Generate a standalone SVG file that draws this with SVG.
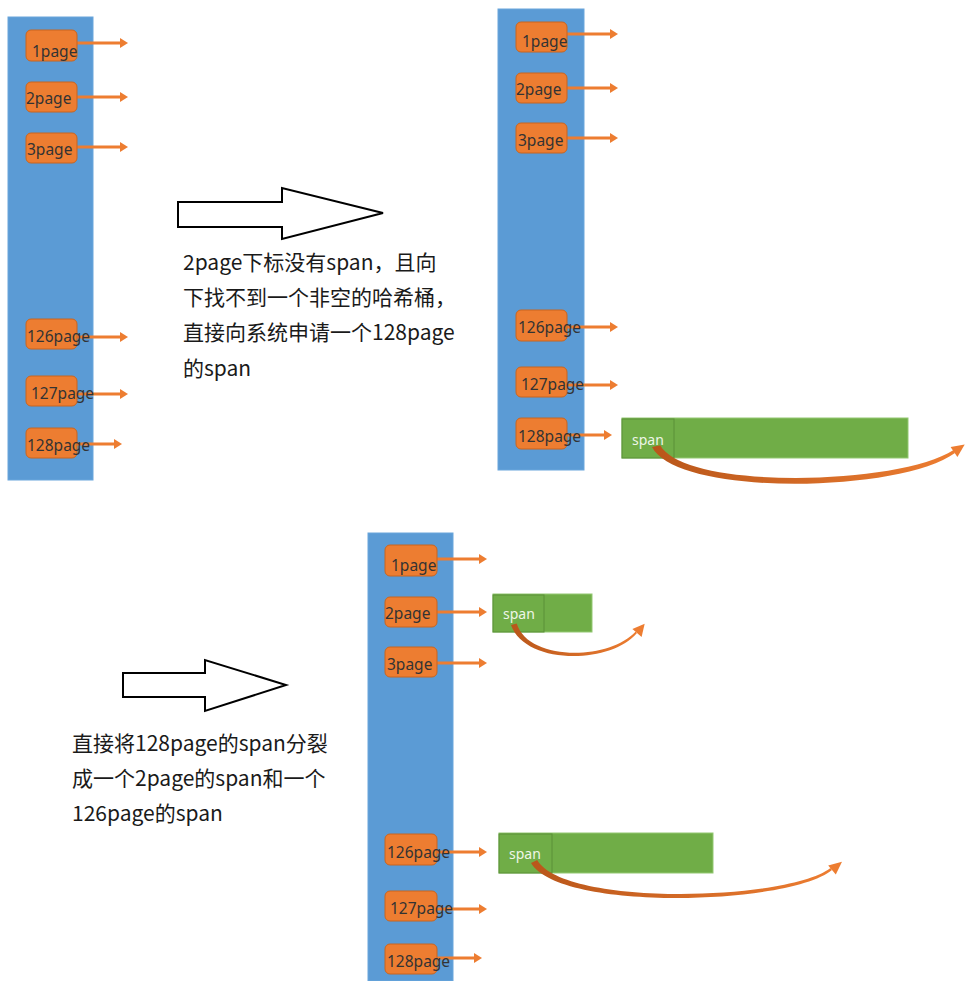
<svg xmlns="http://www.w3.org/2000/svg" width="977" height="981" viewBox="0 0 977 981">
<style>
.col{fill:#5b9bd5;stroke:#6aa6dc;stroke-width:1}
.nb{fill:#ed7d31;stroke:#c9651f;stroke-width:1}
.nt{font-family:"Noto Sans","Liberation Sans",sans-serif;font-size:15.5px;fill:#333}
.ar{stroke:#ed7d31;stroke-width:3;fill:none;marker-end:url(#ah)}
.sp{fill:#70ad47;stroke:#93c873;stroke-width:1}
.spi{fill:#70ad47;stroke:#5a9038;stroke-width:1}
.st{font-family:"Noto Sans","Liberation Sans",sans-serif;font-size:14px;fill:#eef6e8}
.big{fill:#fff;stroke:#000;stroke-width:2;stroke-linejoin:miter}
.tx{font-family:"Noto Sans CJK SC","Noto Sans",sans-serif;font-size:21px;fill:#1a1a1a}
.cv{fill:url(#cg)}
</style>
<defs>
<marker id="ah" markerUnits="userSpaceOnUse" markerWidth="9" markerHeight="10" refX="2" refY="5" orient="auto">
<path d="M0,0 L8,5 L0,10 Z" fill="#ed7d31"/>
</marker>
<linearGradient id="cg" x1="0" y1="0" x2="1" y2="0">
<stop offset="0" stop-color="#b9561a"/>
<stop offset="1" stop-color="#ed7d31"/>
</linearGradient>
</defs>

<rect class="col" x="8" y="17" width="85" height="463"/>
<rect class="col" x="498" y="9" width="86" height="461"/>
<rect class="col" x="368" y="533" width="85" height="448"/>

<g id="connectors">
<line class="ar" x1="77" y1="43" x2="122" y2="43"/>
<line class="ar" x1="77" y1="97" x2="122" y2="97"/>
<line class="ar" x1="77" y1="147" x2="122" y2="147"/>
<line class="ar" x1="77" y1="337" x2="122" y2="337"/>
<line class="ar" x1="77" y1="394" x2="122" y2="394"/>
<line class="ar" x1="77" y1="444" x2="116" y2="444"/>

<line class="ar" x1="567" y1="34" x2="612" y2="34"/>
<line class="ar" x1="567" y1="88" x2="612" y2="88"/>
<line class="ar" x1="567" y1="138" x2="612" y2="138"/>
<line class="ar" x1="567" y1="327" x2="612" y2="327"/>
<line class="ar" x1="567" y1="385" x2="612" y2="385"/>
<line class="ar" x1="567" y1="435" x2="606" y2="435"/>

<line class="ar" x1="437" y1="559" x2="481" y2="559"/>
<line class="ar" x1="437" y1="612" x2="481" y2="612"/>
<line class="ar" x1="437" y1="663" x2="481" y2="663"/>
<line class="ar" x1="437" y1="852" x2="481" y2="852"/>
<line class="ar" x1="437" y1="909" x2="481" y2="909"/>
<line class="ar" x1="437" y1="958" x2="476" y2="958"/>
</g>

<g id="c1-1page"><rect class="nb" x="26" y="30" width="51" height="31" rx="5"/><text class="nt" x="32" y="57">1page</text></g>
<g id="c1-2page"><rect class="nb" x="26" y="82" width="51" height="30" rx="5"/><text class="nt" x="26" y="104">2page</text></g>
<g id="c1-3page"><rect class="nb" x="26" y="133" width="51" height="30" rx="5"/><text class="nt" x="27" y="155">3page</text></g>
<g id="c1-126page"><rect class="nb" x="26" y="319" width="51" height="30" rx="5"/><text class="nt" x="27" y="342">126page</text></g>
<g id="c1-127page"><rect class="nb" x="26" y="376" width="51" height="30" rx="5"/><text class="nt" x="31" y="399">127page</text></g>
<g id="c1-128page"><rect class="nb" x="26" y="428" width="51" height="30" rx="5"/><text class="nt" x="27" y="451">128page</text></g>

<g id="c2-1page"><rect class="nb" x="516" y="22" width="51" height="30" rx="5"/><text class="nt" x="522" y="47">1page</text></g>
<g id="c2-2page"><rect class="nb" x="516" y="73" width="51" height="30" rx="5"/><text class="nt" x="516" y="95">2page</text></g>
<g id="c2-3page"><rect class="nb" x="516" y="123" width="51" height="30" rx="5"/><text class="nt" x="518" y="146">3page</text></g>
<g id="c2-126page"><rect class="nb" x="516" y="310" width="51" height="31" rx="5"/><text class="nt" x="518" y="333">126page</text></g>
<g id="c2-127page"><rect class="nb" x="516" y="367" width="51" height="30" rx="5"/><text class="nt" x="521" y="390">127page</text></g>
<g id="c2-128page"><rect class="nb" x="516" y="418" width="51" height="31" rx="5"/><text class="nt" x="518" y="442">128page</text></g>

<g id="c3-1page"><rect class="nb" x="385" y="545" width="52" height="31" rx="5"/><text class="nt" x="391" y="571">1page</text></g>
<g id="c3-2page"><rect class="nb" x="385" y="597" width="52" height="30" rx="5"/><text class="nt" x="385" y="619">2page</text></g>
<g id="c3-3page"><rect class="nb" x="385" y="647" width="52" height="30" rx="5"/><text class="nt" x="387" y="670">3page</text></g>
<g id="c3-126page"><rect class="nb" x="385" y="834" width="52" height="31" rx="5"/><text class="nt" x="387" y="858">126page</text></g>
<g id="c3-127page"><rect class="nb" x="385" y="891" width="52" height="30" rx="5"/><text class="nt" x="390" y="914">127page</text></g>
<g id="c3-128page"><rect class="nb" x="385" y="944" width="52" height="30" rx="5"/><text class="nt" x="387" y="967">128page</text></g>

<g id="span128">
<rect class="sp" x="622" y="418" width="286" height="40"/>
<rect class="spi" x="622" y="419" width="52" height="39"/>
<text class="st" x="632" y="445">span</text>
<path class="cv" d="M652,447 C678,497 900,493 955,453 L953.6,450 C898,486 684,490 660.3,445.2 Z"/>
<path d="M950.6,447.1 L964.7,444.6 L957.4,456.9 Z" fill="#ed7d31"/>
</g>

<g id="span2">
<rect class="sp" x="493" y="594" width="99" height="38"/>
<rect class="spi" x="493" y="595" width="51" height="37"/>
<text class="st" x="503" y="619">span</text>
<path class="cv" d="M511,625 C525,665 610,665 637,633 L635.5,631.7 C608,661 528,661 516.75,623.45 Z"/>
<path d="M632.4,629.1 L644.7,623.8 L641.6,636.9 Z" fill="#ed7d31"/>
</g>

<g id="span126">
<rect class="sp" x="499" y="833" width="214" height="40"/>
<rect class="spi" x="499" y="834" width="53" height="39"/>
<text class="st" x="509" y="859">span</text>
<path class="cv" d="M531,863 C560,912 790,905 832,870 L830.4,868.1 C788,901 564,907 537.2,860 Z"/>
<path d="M828.2,865.4 L842,861.7 L835.8,874.6 Z" fill="#ed7d31"/>
</g>

<g id="step-arrow-1"><polygon class="big" points="178,202 282,202 282,188 383,213 282,239 282,227 178,227"/></g>
<g id="step-text-1">
<text class="tx" x="183" y="270">2page下标没有span，且向</text>
<text class="tx" x="183" y="305">下找不到一个非空的哈希桶，</text>
<text class="tx" x="183" y="340">直接向系统申请一个128page</text>
<text class="tx" x="183" y="376">的span</text>
</g>

<g id="step-arrow-2"><polygon class="big" points="123,673 205,673 205,660 286,685 205,711 205,697 123,697"/></g>
<g id="step-text-2">
<text class="tx" x="72" y="751">直接将128page的span分裂</text>
<text class="tx" x="72" y="786">成一个2page的span和一个</text>
<text class="tx" x="72" y="821">126page的span</text>
</g>
</svg>
